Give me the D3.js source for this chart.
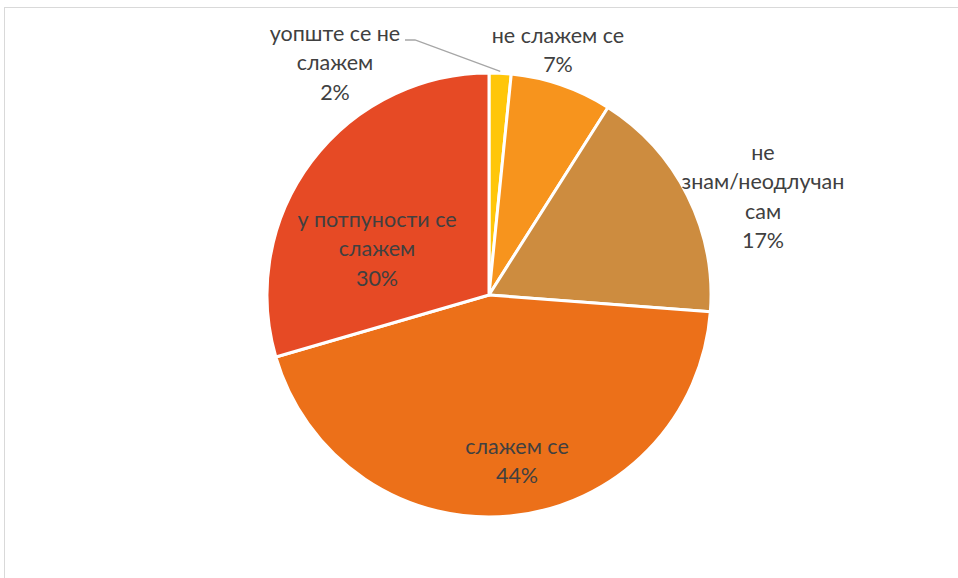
<!DOCTYPE html>
<html><head><meta charset="utf-8">
<script src="https://cdn.jsdelivr.net/npm/d3@7"></script>
<style>body{margin:0;background:#fff;}svg{display:block;}</style>
</head><body>
<svg id="c" width="958" height="578"></svg>
<script>
const categories = ["уопште се не слажем", "не слажем се", "не знам/неодлучан сам", "слажем се", "у потпуности се слажем"];
const values = [1.6, 7.4, 17.2, 44.3, 29.5];
const percentLabels = ["2%", "7%", "17%", "44%", "30%"];
const labelLines = [["уопште се не", "слажем"], ["не слажем се"], ["не", "знам/неодлучан", "сам"], ["слажем се"], ["у потпуности се", "слажем"]];
const colors = ["#FFC60A", "#F7941D", "#CD8C3F", "#EC7019", "#E64A25"];
const labelPos = [[335, 33], [558, 35], [763, 152], [517, 446], [377, 219]];

const svg = d3.select("#c");
svg.append("rect").attr("x", 4.5).attr("y", 7.5).attr("width", 1000).attr("height", 600)
  .attr("fill", "#fff").attr("stroke", "#d9d9d9").attr("stroke-width", 1);

const cx = 489, cy = 295, r = 222;
const pie = d3.pie().sort(null).value(d => d)(values);
const arc = d3.arc().innerRadius(0).outerRadius(r);
const g = svg.append("g").attr("transform", `translate(${cx},${cy})`);
g.selectAll("path").data(pie).join("path")
  .attr("d", arc).attr("fill", (d, i) => colors[i])
  .attr("stroke", "#fff").attr("stroke-width", 3).attr("stroke-linejoin", "round");

// leader line for the small slice
const a0 = (pie[0].startAngle + pie[0].endAngle) / 2;
const px = cx + Math.sin(a0) * (r + 2), py = cy - Math.cos(a0) * (r + 2);
svg.append("polyline").attr("points", `405,40 415,40 ${px},${py}`)
  .attr("fill", "none").attr("stroke", "#a6a6a6").attr("stroke-width", 1.3);

const lh = 29.5;
labelLines.forEach((lines, i) => {
  const all = lines.concat([percentLabels[i]]);
  const t = svg.append("text").attr("text-anchor", "middle")
    .attr("font-family", "Lato, 'Open Sans', sans-serif").attr("font-size", 21.5)
    .attr("fill", "#404040");
  all.forEach((s, k) => {
    t.append("tspan").attr("x", labelPos[i][0]).attr("y", labelPos[i][1] + k * lh)
      .attr("dy", "0.35em").text(s);
  });
});
</script>
</body></html>
